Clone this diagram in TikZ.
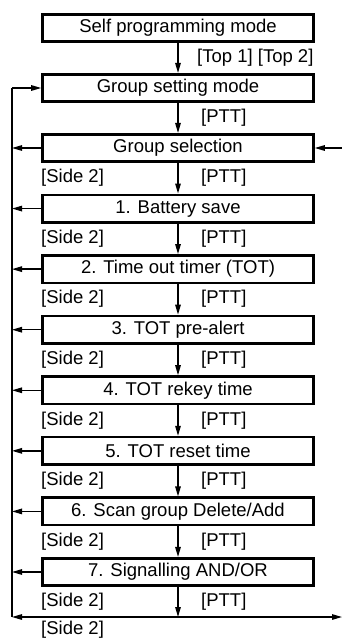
\documentclass[tikz,border=0pt]{standalone}
\usepackage{fontspec}
\setmainfont{Liberation Sans}
\usetikzlibrary{arrows.meta}
\begin{document}
\begin{tikzpicture}[x=1pt,y=-1pt,
 box/.style={draw,line width=2.6pt,minimum width=271pt,minimum height=27.5pt,inner sep=0pt,font=\fontsize{18.5}{20}\selectfont},
 lbl/.style={font=\fontsize{18.5}{20}\selectfont,inner sep=0pt,anchor=west},
 ln/.style={line width=1.3pt},
 arr/.style={ln,-{Triangle[length=10pt,width=5.5pt]}},
 darr/.style={ln,{Triangle[length=10pt,width=5.5pt]}-{Triangle[length=10pt,width=5.5pt]}}]
\useasboundingbox (0,0) rectangle (342,639);
\node[box] (b0) at (178,28) {Self programming mode};
\node[box] (b1) at (178,88) {Group setting mode};
\foreach \t [count=\i from 2] in {Group selection,1. Battery save,2. Time out timer (TOT),3. TOT pre-alert,4. TOT rekey time,5. TOT reset time,6. Scan group Delete/Add,7. Signalling AND/OR}
  \node[box] (b\i) at (178,{148+60.57*(\i-2)}) {\t};
\coordinate (L0) at (12,88);
\coordinate (Lb) at (12,617);
\coordinate (Rb) at (342,617);
\coordinate (R) at (342,148);
% top connectors
\draw[arr] (b0.south) -- (b1.north);
\node[lbl] (t1) at (197,58) {[Top 1] [Top 2]};
\draw[arr] (b1.south) -- (b2.north);
\node[lbl] (p1) at (201,118) {[PTT]};
\foreach \i [evaluate=\i as \j using int(\i+1)] in {2,...,8} {
  \draw[arr] (b\i.south) -- (b\j.north);
  \node[lbl] (p\j) at (201,{178+60.57*(\i-2)}) {[PTT]};
  \node[lbl] (s\j) at (41,{178+60.57*(\i-2)}) {[Side 2]};
}
\foreach \i in {2,...,9}
  \draw[arr] (b\i.west) -- (b\i.west -| L0);
\draw[ln] (L0) -- (Lb);
\draw[arr] (L0) -- (b1.west);
\draw[arr] (R) -- (b2.east);
\draw[darr] (Lb) -- (Rb);
\draw[arr] (b9.south) -- (b9.south |- Lb);
\node[lbl] (p10) at (201,602) {[PTT]};
\node[lbl] (s10) at (41,602) {[Side 2]};
\node[lbl] (s11) at (41,630) {[Side 2]};
\end{tikzpicture}
\end{document}
